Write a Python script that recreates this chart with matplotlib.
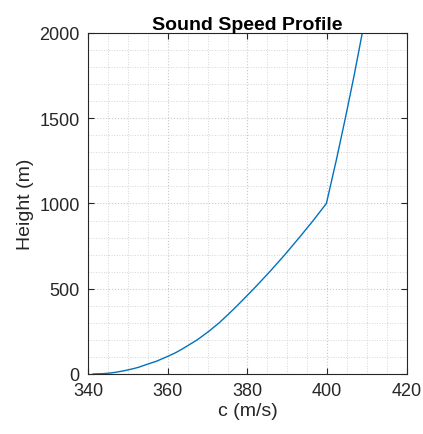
import numpy as np
import matplotlib
matplotlib.use("Agg")
import matplotlib.pyplot as plt
from matplotlib.ticker import MultipleLocator

plt.rcParams['font.family'] = ['Liberation Sans', 'DejaVu Sans']

# values
height = [0, 2, 5, 10, 20, 30, 40, 50, 75, 100, 125, 150, 200, 250, 300, 350, 400, 450,
          500, 600, 700, 800, 900, 1000,
          1250, 1500, 1750, 2000]  # m
speed = [341.3, 343.9, 345.4, 347.0, 349.3, 351.2, 352.8, 354.0, 357.2, 359.7, 362.0,
         363.9, 367.4, 370.3, 372.9, 375.2, 377.4, 379.5,
         381.6, 385.6, 389.4, 393.0, 396.5, 399.8,
         402.25, 404.55, 406.75, 408.8]  # m/s

xticks = [340, 360, 380, 400, 420]
yticks = [0, 500, 1000, 1500, 2000]

fig = plt.figure(figsize=(4.23, 4.35), dpi=100)
ax = fig.add_axes([0.208, 0.138, 0.754, 0.784])

ax.plot(speed, height, color='#0072BD', linewidth=1.0)

ax.set_xlim(340, 420)
ax.set_ylim(0, 2000)
ax.set_xticks(xticks)
ax.set_yticks(yticks)
ax.xaxis.set_minor_locator(MultipleLocator(5))
ax.yaxis.set_minor_locator(MultipleLocator(100))

ax.grid(which='major', linestyle=':', color='#c8c8c8', linewidth=0.8)
ax.grid(which='minor', linestyle=':', color='#d4d4d4', linewidth=0.7)
ax.set_axisbelow(True)

ax.tick_params(which='major', direction='in', top=True, right=True, length=4,
               width=0.8, color='#262626', labelsize=13, labelcolor='#262626')
ax.tick_params(axis='x', which='major', pad=6)
ax.tick_params(axis='y', which='major', pad=6)
ax.tick_params(which='minor', length=0, top=True, right=True)
for s in ax.spines.values():
    s.set_color('#262626')
    s.set_linewidth(0.8)

ax.set_xlabel('c (m/s)', fontsize=14, color='#262626', labelpad=2)
ax.set_ylabel('Height (m)', fontsize=14, color='#262626', labelpad=4)
ax.set_title('Sound Speed Profile', fontsize=14, fontweight='bold', pad=2)

fig.savefig('out.png', dpi=100)
